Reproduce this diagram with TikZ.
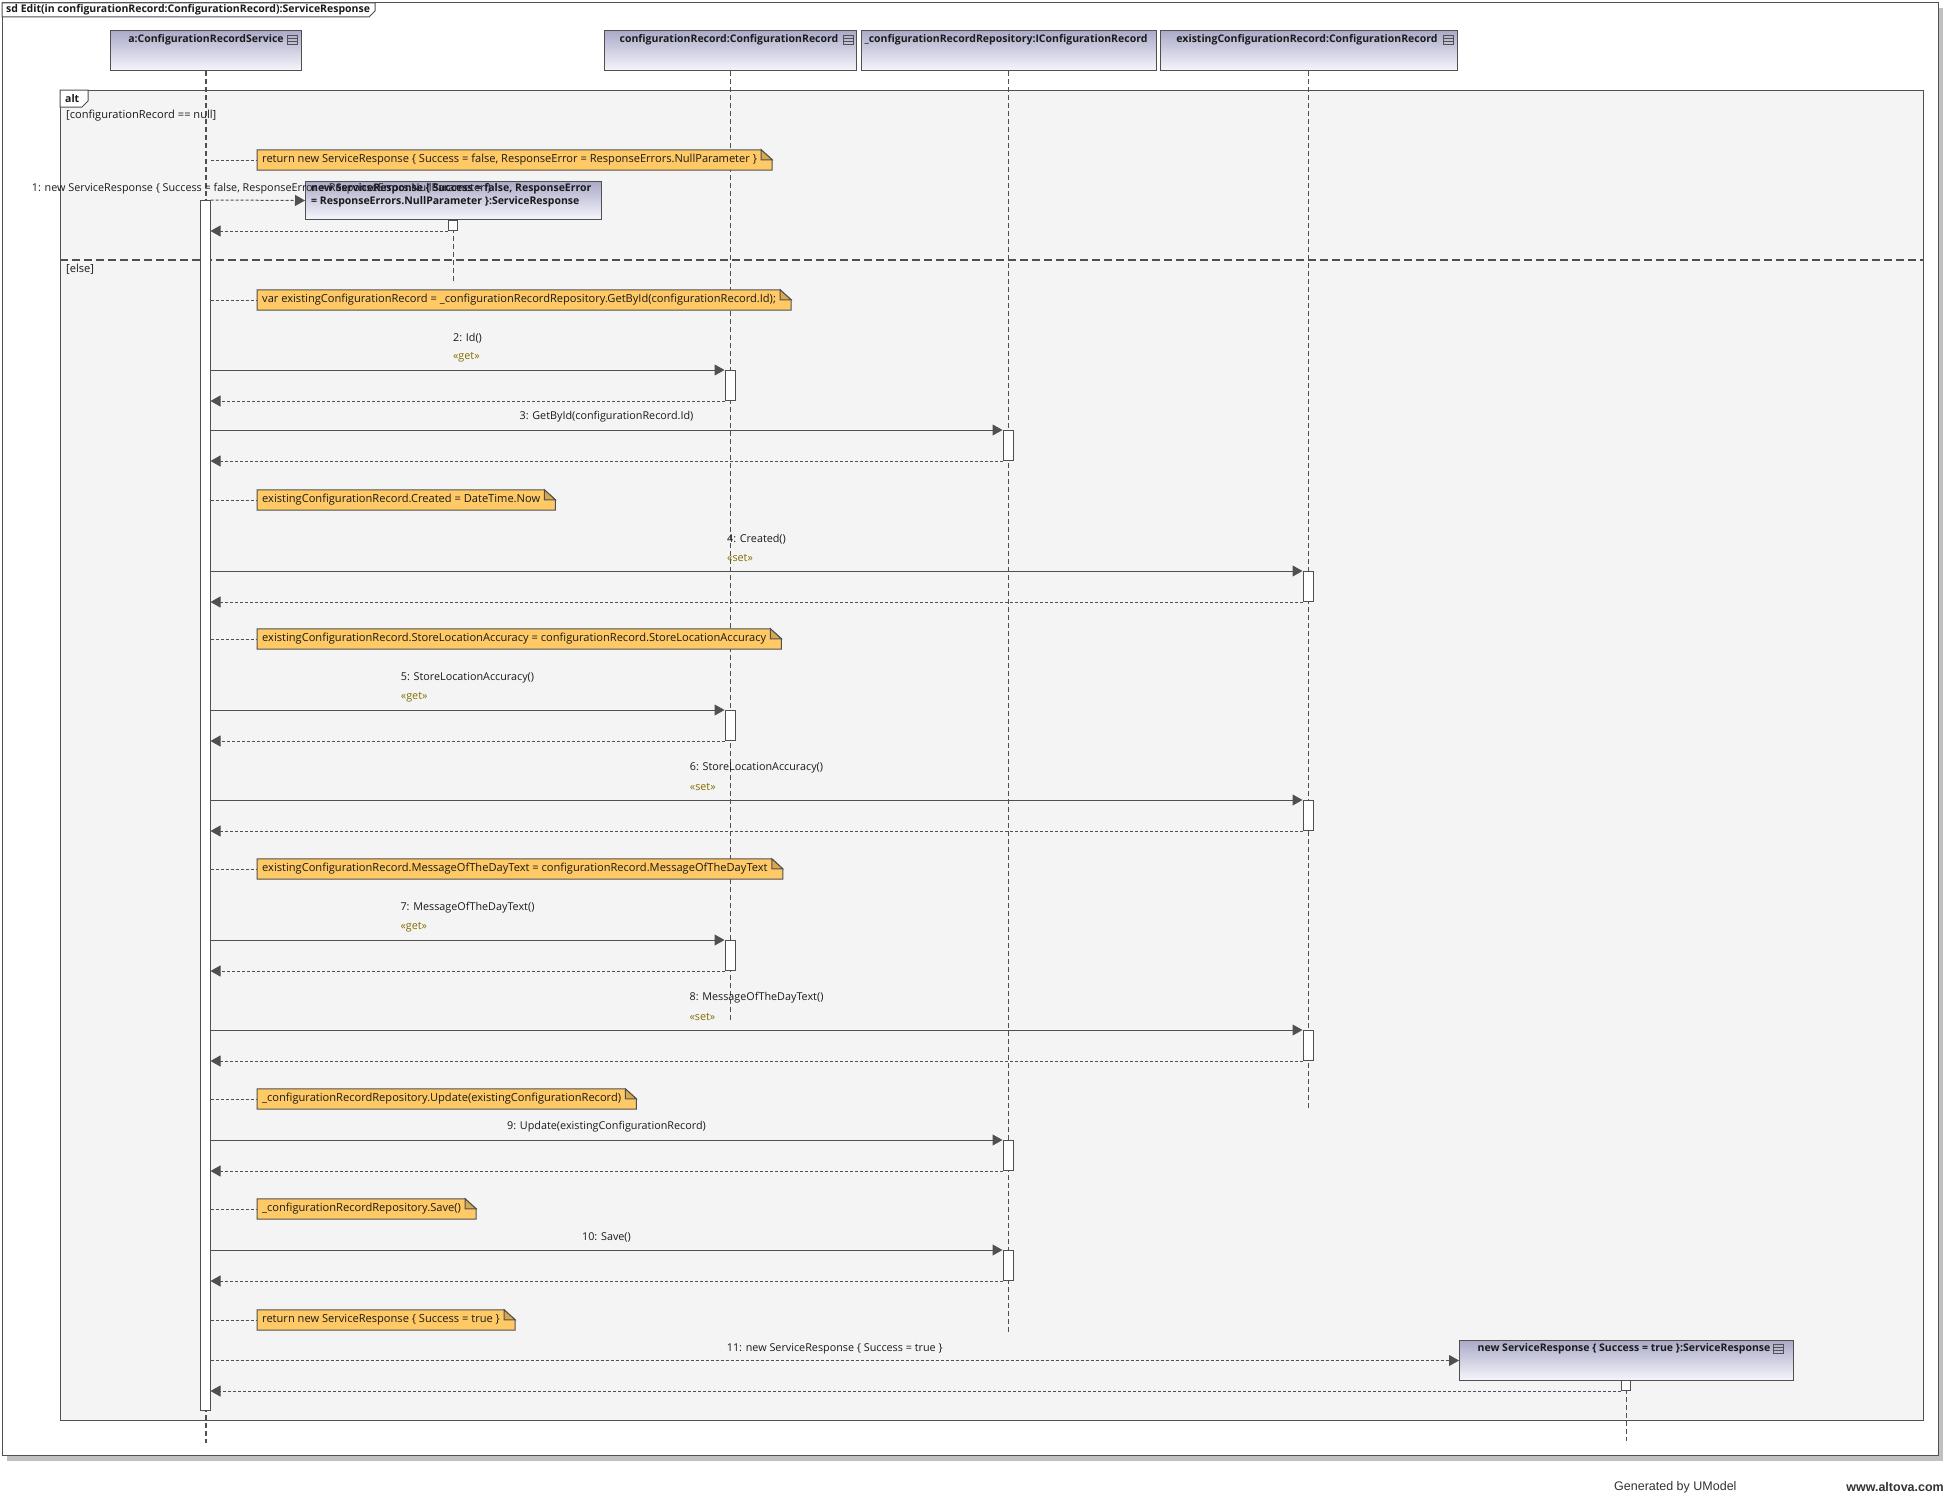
\documentclass[tikz,border=0pt]{standalone}
\usepackage{fontspec}
\setmainfont{Open Sans}
\newfontfamily\footfont{Liberation Sans}
\usetikzlibrary{arrows.meta,calc}
\pgfdeclarelayer{back}
\pgfdeclarelayer{mid}
\pgfsetlayers{back,mid,main}
\definecolor{linec}{HTML}{505050}
\definecolor{notefill}{HTML}{FFC966}
\definecolor{notefold}{HTML}{D9A84E}
\definecolor{altfill}{HTML}{F4F4F4}
\definecolor{stereo}{RGB}{130,110,0}
\definecolor{headtop}{RGB}{170,170,200}
\definecolor{headbot}{RGB}{246,246,252}
\definecolor{shadowc}{HTML}{C0C0C0}
\definecolor{txt}{HTML}{1A1A1A}
\tikzset{
  every node/.style={font=\fontsize{11.1}{12}\selectfont, text=txt, inner sep=0pt},
  boldtxt/.style={font=\fontsize{10.5}{13}\selectfont\bfseries},
  head/.style={draw=linec, line width=1pt, top color=headtop, bottom color=headbot, anchor=north west, inner sep=0pt},
  life/.style={draw=linec, line width=1.6pt, dash pattern=on 5pt off 3pt},
  actbar/.style={draw=linec, fill=white, line width=1pt, minimum width=10pt, anchor=north, inner sep=0pt},
  msg/.style={draw=linec, line width=1pt, -{Triangle[length=10pt,width=11pt]}},
  ret/.style={msg, dash pattern=on 3pt off 2pt},
  notelink/.style={draw=linec, line width=0.8pt, dash pattern=on 3pt off 2pt},
  notetxt/.style={anchor=west, inner sep=0pt, minimum height=20pt},
  lbl/.style={font=\fontsize{10.8}{12}\selectfont},
  footer/.style={font=\footfont\fontsize{12.5}{14}\selectfont, text=black!80}
}
\newcommand\headicon[1]{%
  \draw[linec, line width=0.8pt] ($(#1)+(-5,-4.5)$) rectangle ($(#1)+(5,4.5)$);
  \draw[linec, line width=0.8pt] ($(#1)+(-5,-1.5)$) -- ($(#1)+(5,-1.5)$);
  \draw[linec, line width=0.8pt] ($(#1)+(-5,1.5)$) -- ($(#1)+(5,1.5)$);
}
\newcommand\umlnote[3]{%
  \node[notetxt] (#1) at (257,#2) {\hspace*{5pt}#3\hspace*{15pt}};
  \begin{pgfonlayer}{mid}
    \filldraw[fill=notefill, draw=linec, line width=1pt] (#1.south west) -- (#1.north west) -- ([xshift=-11pt]#1.north east) -- ([yshift=-10pt]#1.north east) -- (#1.south east) -- cycle;
    \filldraw[fill=notefold, draw=linec, line width=1pt] ([xshift=-11pt]#1.north east) -- ([xshift=-11pt,yshift=-10pt]#1.north east) -- ([yshift=-10pt]#1.north east) -- cycle;
  \end{pgfonlayer}
  \draw[notelink] (A0.east |- #1.west) -- (#1.west);
}
\newcommand\umlcall[3]{%
  \coordinate (#1s) at (A0.east |- #1.north);
  \coordinate (#1r) at (A0.east |- #1.south);
  \draw[msg] (#1s) -- (#1.north west);
  \draw[ret] (#1.south west) -- (#1r);
  \ifx&#3&%
    \node[lbl] (#1l) at ($(#1s)!0.5!(#1.north west)+(0,-13)$) {#2};
  \else
    \node[lbl] (#1l) at ($(#1s)!0.5!(#1.north west)+(0,-32)$) {#2};
    \node[lbl, text=stereo, anchor=west] (#1t) at ($(#1l.west)+(0,19)$) {#3};
  \fi
}
\begin{document}
\begin{tikzpicture}[x=1pt,y=-1pt]
\useasboundingbox (0,0) rectangle (1954,1496);

% ---------- heads ----------
\node[head, minimum width=191pt, minimum height=40pt] (hA) at (110,30) {};
\node[boldtxt] (tA) at (206,40) {a:ConfigurationRecordService};
\coordinate (iA) at (292,40); \headicon{iA}
\node[head, minimum width=252pt, minimum height=40pt] (hC) at (604,30) {};
\node[boldtxt] (tC) at (729,40) {configurationRecord:ConfigurationRecord};
\coordinate (iC) at (848,40); \headicon{iC}
\node[head, minimum width=295pt, minimum height=40pt] (hR) at (860.5,30) {};
\node[boldtxt] (tR) at (1006,40) {\_configurationRecordRepository:IConfigurationRecord};
\node[head, minimum width=297pt, minimum height=40pt] (hE) at (1159.5,30) {};
\node[boldtxt] (tE) at (1307,40) {existingConfigurationRecord:ConfigurationRecord};
\coordinate (iE) at (1448,40); \headicon{iE}

% created objects
\node[head, minimum width=296pt, minimum height=38pt] (k1box) at (305,181) {};
\node[boldtxt, anchor=north west, align=left] (k1t) at (311,183) {new ServiceResponse \{ Success = false, ResponseError\\= ResponseErrors.NullParameter \}:ServiceResponse};
\node[head, minimum width=334pt, minimum height=40pt] (k2box) at (1459,1340) {};
\node[boldtxt] (k2t) at (1624,1349) {new ServiceResponse \{ Success = true \}:ServiceResponse};
\coordinate (iK) at (1778,1349); \headicon{iK}

% ---------- activations ----------
\node[actbar, minimum height=1210pt] (A0) at (205,200) {};
\node[actbar, minimum width=9pt, minimum height=10pt] (k1) at (453,220) {};
\node[actbar, minimum height=30pt] (c1) at (730,370) {};
\node[actbar, minimum height=30pt] (r1) at (1008,430) {};
\node[actbar, minimum height=30pt] (e1) at (1308,571) {};
\node[actbar, minimum height=30pt] (c2) at (730,710) {};
\node[actbar, minimum height=30pt] (e2) at (1308,800) {};
\node[actbar, minimum height=30pt] (c3) at (730,940) {};
\node[actbar, minimum height=30pt] (e3) at (1308,1030) {};
\node[actbar, minimum height=30pt] (r2) at (1008,1140) {};
\node[actbar, minimum height=30pt] (r3) at (1008,1250) {};
\node[actbar, minimum width=9pt, minimum height=10pt] (k2) at (1626,1380) {};

% ---------- frames, lifelines ----------
\begin{pgfonlayer}{back}
  \fill[white] (0,0) rectangle (1954,1496);
  \fill[shadowc] (7,8) rectangle (1943,1461);
  \filldraw[fill=white, draw=linec, line width=1pt] (2,3) rectangle (1938,1455);
  \filldraw[fill=white, draw=linec, line width=1pt] (2,3) -- (375,3) -- (375,11) -- (369,17) -- (2,17) -- cycle;
  \node[boldtxt, anchor=west] (title) at (6,10) {sd Edit(in configurationRecord:ConfigurationRecord):ServiceResponse};
  \filldraw[fill=altfill, draw=linec, line width=1pt] (60,90) rectangle (1923,1420);
  \filldraw[fill=white, draw=linec, line width=1pt] (60,90) -- (88,90) -- (88,101) -- (82,107) -- (60,107) -- cycle;
  \node[boldtxt, anchor=west] (altl) at (65,99) {alt};
  \node[anchor=west] (g1) at (66,116) {[configurationRecord == null]};
  \node[anchor=west] (g2) at (66,269) {[else]};
  \draw[linec, line width=1.6pt, dash pattern=on 8pt off 4pt] (60,260) -- (1923,260);
  \draw[life] (hA.south) -- ++(0,1372);
  \draw[life] (hC.south) -- ++(0,950);
  \draw[life] (hR.south) -- ++(0,1261);
  \draw[life] (hE.south) -- ++(0,1039);
  \draw[life] (k1box.south) -- ++(0,61);
  \draw[life] (k2box.south) -- ++(0,60);
\end{pgfonlayer}

% ---------- notes ----------
\umlnote{n1}{160}{return new ServiceResponse \{ Success = false, ResponseError = ResponseErrors.NullParameter \}}
\umlnote{n2}{300}{var existingConfigurationRecord = \_configurationRecordRepository.GetById(configurationRecord.Id);}
\umlnote{n3}{500}{existingConfigurationRecord.Created = DateTime.Now}
\umlnote{n4}{639}{existingConfigurationRecord.StoreLocationAccuracy = configurationRecord.StoreLocationAccuracy}
\umlnote{n5}{869}{existingConfigurationRecord.MessageOfTheDayText = configurationRecord.MessageOfTheDayText}
\umlnote{n6}{1099}{\_configurationRecordRepository.Update(existingConfigurationRecord)}
\umlnote{n7}{1209}{\_configurationRecordRepository.Save()}
\umlnote{n8}{1320}{return new ServiceResponse \{ Success = true \}}

% ---------- messages ----------
\coordinate (m1s) at (A0.north east);
\draw[ret] (m1s) -- (k1box.west);
\draw[ret] (k1.south west) -- (A0.east |- k1.south);
\node[lbl] (m1l) at ($(m1s)!0.5!(k1box.west)+(4,-12)$) {1: new ServiceResponse \{ Success = false, ResponseError = ResponseErrors.NullParameter \}};

\umlcall{c1}{2: Id()}{«get»}
\umlcall{r1}{3: GetById(configurationRecord.Id)}{}
\umlcall{e1}{4: Created()}{«set»}
\umlcall{c2}{5: StoreLocationAccuracy()}{«get»}
\umlcall{e2}{6: StoreLocationAccuracy()}{«set»}
\umlcall{c3}{7: MessageOfTheDayText()}{«get»}
\umlcall{e3}{8: MessageOfTheDayText()}{«set»}
\umlcall{r2}{9: Update(existingConfigurationRecord)}{}
\umlcall{r3}{10: Save()}{}

\coordinate (m11s) at (A0.east |- k2box.west);
\draw[ret] (m11s) -- (k2box.west);
\draw[ret] (k2.south west) -- (A0.east |- k2.south);
\node[lbl] (m11l) at ($(m11s)!0.5!(k2box.west)+(0,-12)$) {11: new ServiceResponse \{ Success = true \}};

% ---------- footer ----------
\node[footer, anchor=west] (gen) at (1614,1487) {Generated by UModel};
\node[footer, font=\footfont\bfseries\fontsize{12.5}{14}\selectfont, anchor=east] (web) at (1944,1487) {www.altova.com};
\end{tikzpicture}
\end{document}
